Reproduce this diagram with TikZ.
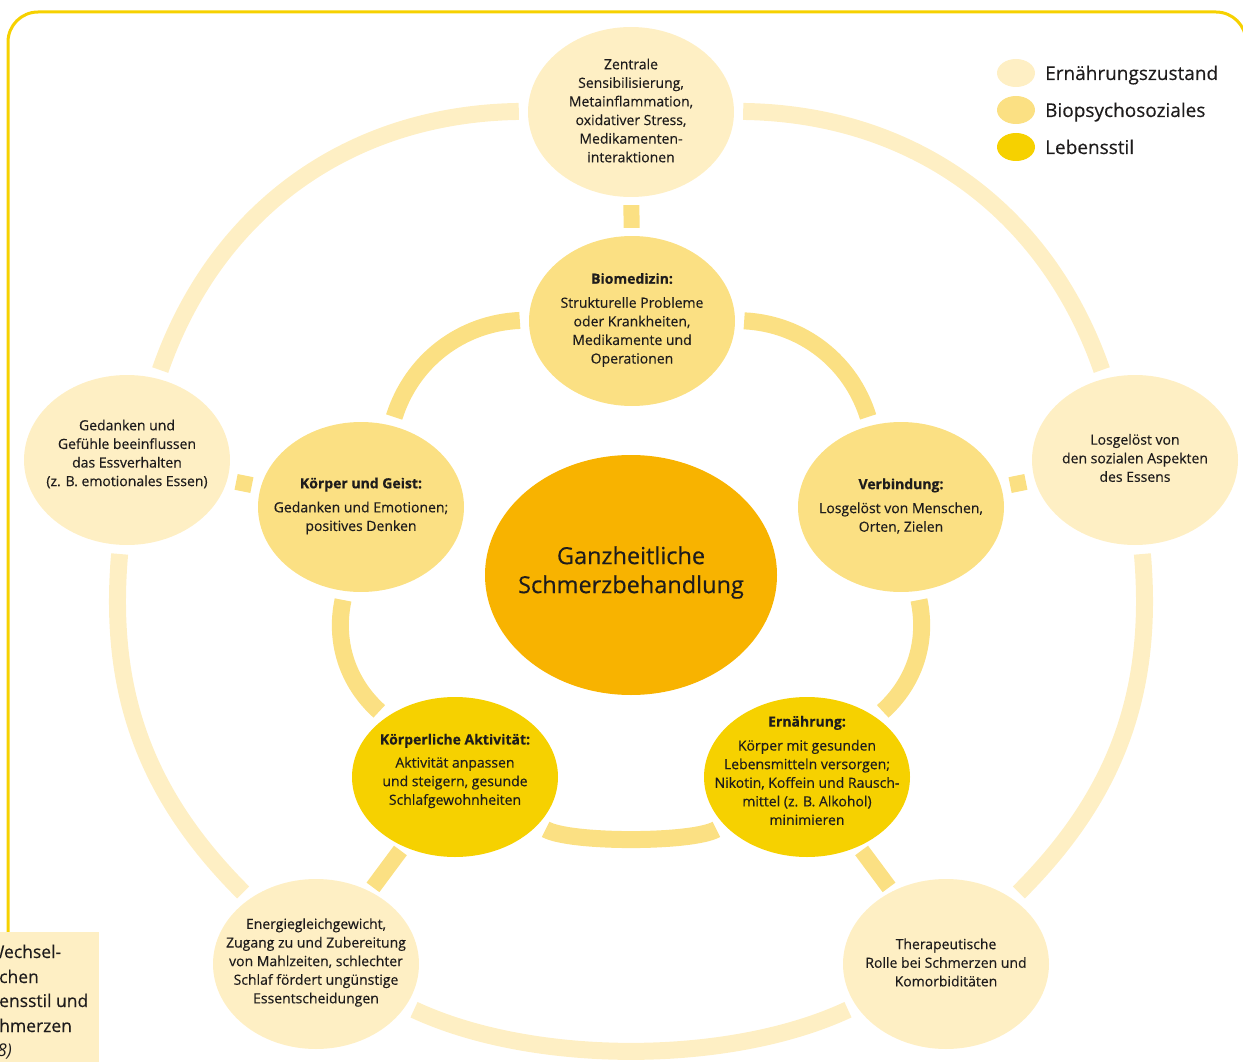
\documentclass[tikz,border=0pt]{standalone}
\usepackage{fontspec}
\setmainfont{Open Sans}[UprightFeatures={FakeBold=0.35}, BoldFeatures={FakeBold=0.4}]
\usetikzlibrary{shapes.geometric}
\definecolor{cOuter}{HTML}{FEEFC4}
\definecolor{cBio}{HTML}{FBE083}
\definecolor{cLeb}{HTML}{F6D100}
\definecolor{cCenter}{HTML}{F8B300}
\definecolor{cFrame}{HTML}{F6D100}
\definecolor{cText}{HTML}{1E1C1C}
\begin{document}
\begin{tikzpicture}[x=1pt,y=1pt,
  blob/.style={ellipse, inner sep=0pt, minimum width=206pt, minimum height=170pt},
  outerblob/.style={blob, fill=cOuter},
  bioblob/.style={blob, fill=cBio},
  lebblob/.style={blob, fill=cLeb, minimum height=160pt},
  txt/.style={align=center, text=cText, font=\fontsize{14}{18.6}\selectfont, inner sep=0pt},
  ring/.style={line width=17pt},
  outerlink/.style={ring, draw=cOuter, shorten <=9pt, shorten >=9pt},
  innerlink/.style={ring, draw=cBio, shorten <=9pt, shorten >=9pt},
  spoke/.style={line width=16pt, draw=cBio},
  legblob/.style={ellipse, inner sep=0pt, minimum width=38pt, minimum height=28pt},
  legtxt/.style={anchor=base west, inner sep=0pt, text=cText, font=\fontsize{19}{24}\selectfont},
  captxt/.style={anchor=base west, inner sep=0pt, text=cText, font=\fontsize{17.5}{24.5}\selectfont},
]
\useasboundingbox (0,0) rectangle (1243,-1062);
\clip (0,0) rectangle (1243,-1062);

% frame
\draw[cFrame, line width=3pt, rounded corners=30pt] (8,-1200) -- (8,-12) -- (1246,-12) -- (1246,-1200);

% caption box
\fill[cOuter] (0,-932) rectangle (99,-1070);
\node[captxt] (c1) at (-12,-958) {Wechsel-};
\node[captxt] (c2) at (-1,-983) {chen};
\node[captxt] (c3) at (-1,-1007) {ensstil und};
\node[captxt] (c4) at (-1,-1032) {hmerzen};
\node[captxt] (c5) at (-3,-1056) {\itshape 8)};

% nodes
\node[outerblob] (top) at (631,-112) {};
\node[outerblob] (left) at (127,-460) {};
\node[outerblob] (right) at (1135,-460) {};
\node[outerblob] (bl) at (316,-964) {};
\node[outerblob] (br) at (946,-964) {};
\node[bioblob] (bio) at (632,-321) {};
\node[bioblob] (kug) at (361,-507) {};
\node[bioblob] (verb) at (901,-507) {};
\node[lebblob] (ka) at (455,-777) {};
\node[lebblob] (ern) at (807,-777) {};
\node[ellipse, inner sep=0pt, fill=cCenter, minimum width=292pt, minimum height=240pt] (center) at (631,-575) {};

% connectors
\draw[outerlink] (top) to[bend right=35] (left);
\draw[outerlink] (top) to[bend left=35] (right);
\draw[outerlink] (left) to[bend right=25] (bl);
\draw[outerlink] (right) to[bend left=25] (br);
\draw[outerlink] (bl) to[bend right=25, looseness=0.8] (br);
\draw[innerlink] (bio) to[bend right=35] (kug);
\draw[innerlink] (bio) to[bend left=35] (verb);
\draw[innerlink] (kug) to[bend right=30] (ka);
\draw[innerlink] (verb) to[bend left=30] (ern);
\draw[innerlink] (ka) to[bend right=30, looseness=0.5] (ern);
\draw[spoke, shorten <=8pt, shorten >=8pt] (bio) -- (top);
\draw[spoke, shorten <=9pt, shorten >=9pt] (kug) -- (left);
\draw[spoke, shorten <=9pt, shorten >=9pt] (verb) -- (right);
\draw[spoke, shorten <=5pt, shorten >=5pt] (ka) -- (bl);
\draw[spoke, shorten <=5pt, shorten >=5pt] (ern) -- (br);

% texts
\node[txt] (ttop) at (631,-110.5) {Zentrale\\Sensibilisierung,\\Metainflammation,\\oxidativer Stress,\\Medikamenten-\\interaktionen};
\node[txt] (tbio) at (632,-320) {\textbf{Biomedizin:}\\[5.4pt]Strukturelle Probleme\\oder Krankheiten,\\Medikamente und\\Operationen};
\node[txt] (tkug) at (361,-506) {\textbf{Körper und Geist:}\\[5.4pt]Gedanken und Emotionen;\\positives Denken};
\node[txt] (tverb) at (901,-506) {\textbf{Verbindung:}\\[5.4pt]Losgelöst von Menschen,\\Orten, Zielen};
\node[txt] (tka) at (455,-771) {\textbf{Körperliche Aktivität:}\\[4.5pt]Aktivität anpassen\\und steigern, gesunde\\Schlafgewohnheiten};
\node[txt] (tern) at (807,-770.5) {\textbf{Ernährung:}\\[5.4pt]Körper mit gesunden\\Lebensmitteln versorgen;\\Nikotin, Koffein und Rausch-\\mittel (z. B. Alkohol)\\minimieren};
\node[txt] (tleft) at (127,-454) {Gedanken und\\Gefühle beeinflussen\\das Essverhalten\\(z. B. emotionales Essen)};
\node[txt] (tright) at (1135,-458) {Losgelöst von\\den sozialen Aspekten\\des Essens};
\node[txt] (tbl) at (316,-962.5) {Energiegleichgewicht,\\Zugang zu und Zubereitung\\von Mahlzeiten, schlechter\\Schlaf fördert ungünstige\\Essentscheidungen};
\node[txt] (tbr) at (946,-962.5) {Therapeutische\\Rolle bei Schmerzen und\\Komorbiditäten};
\node[txt, font=\fontsize{23.5}{29}\selectfont] (tcenter) at (631,-572.5) {Ganzheitliche\\Schmerzbehandlung};

% legend
\node[legblob, fill=cOuter] (l1) at (1016,-73) {};
\node[legblob, fill=cBio] (l2) at (1016,-110) {};
\node[legblob, fill=cLeb] (l3) at (1016,-147) {};
\node[legtxt] (l1t) at (1045,-80) {Ernährungszustand};
\node[legtxt] (l2t) at (1045,-117) {Biopsychosoziales};
\node[legtxt] (l3t) at (1045,-154) {Lebensstil};
\end{tikzpicture}
\end{document}
